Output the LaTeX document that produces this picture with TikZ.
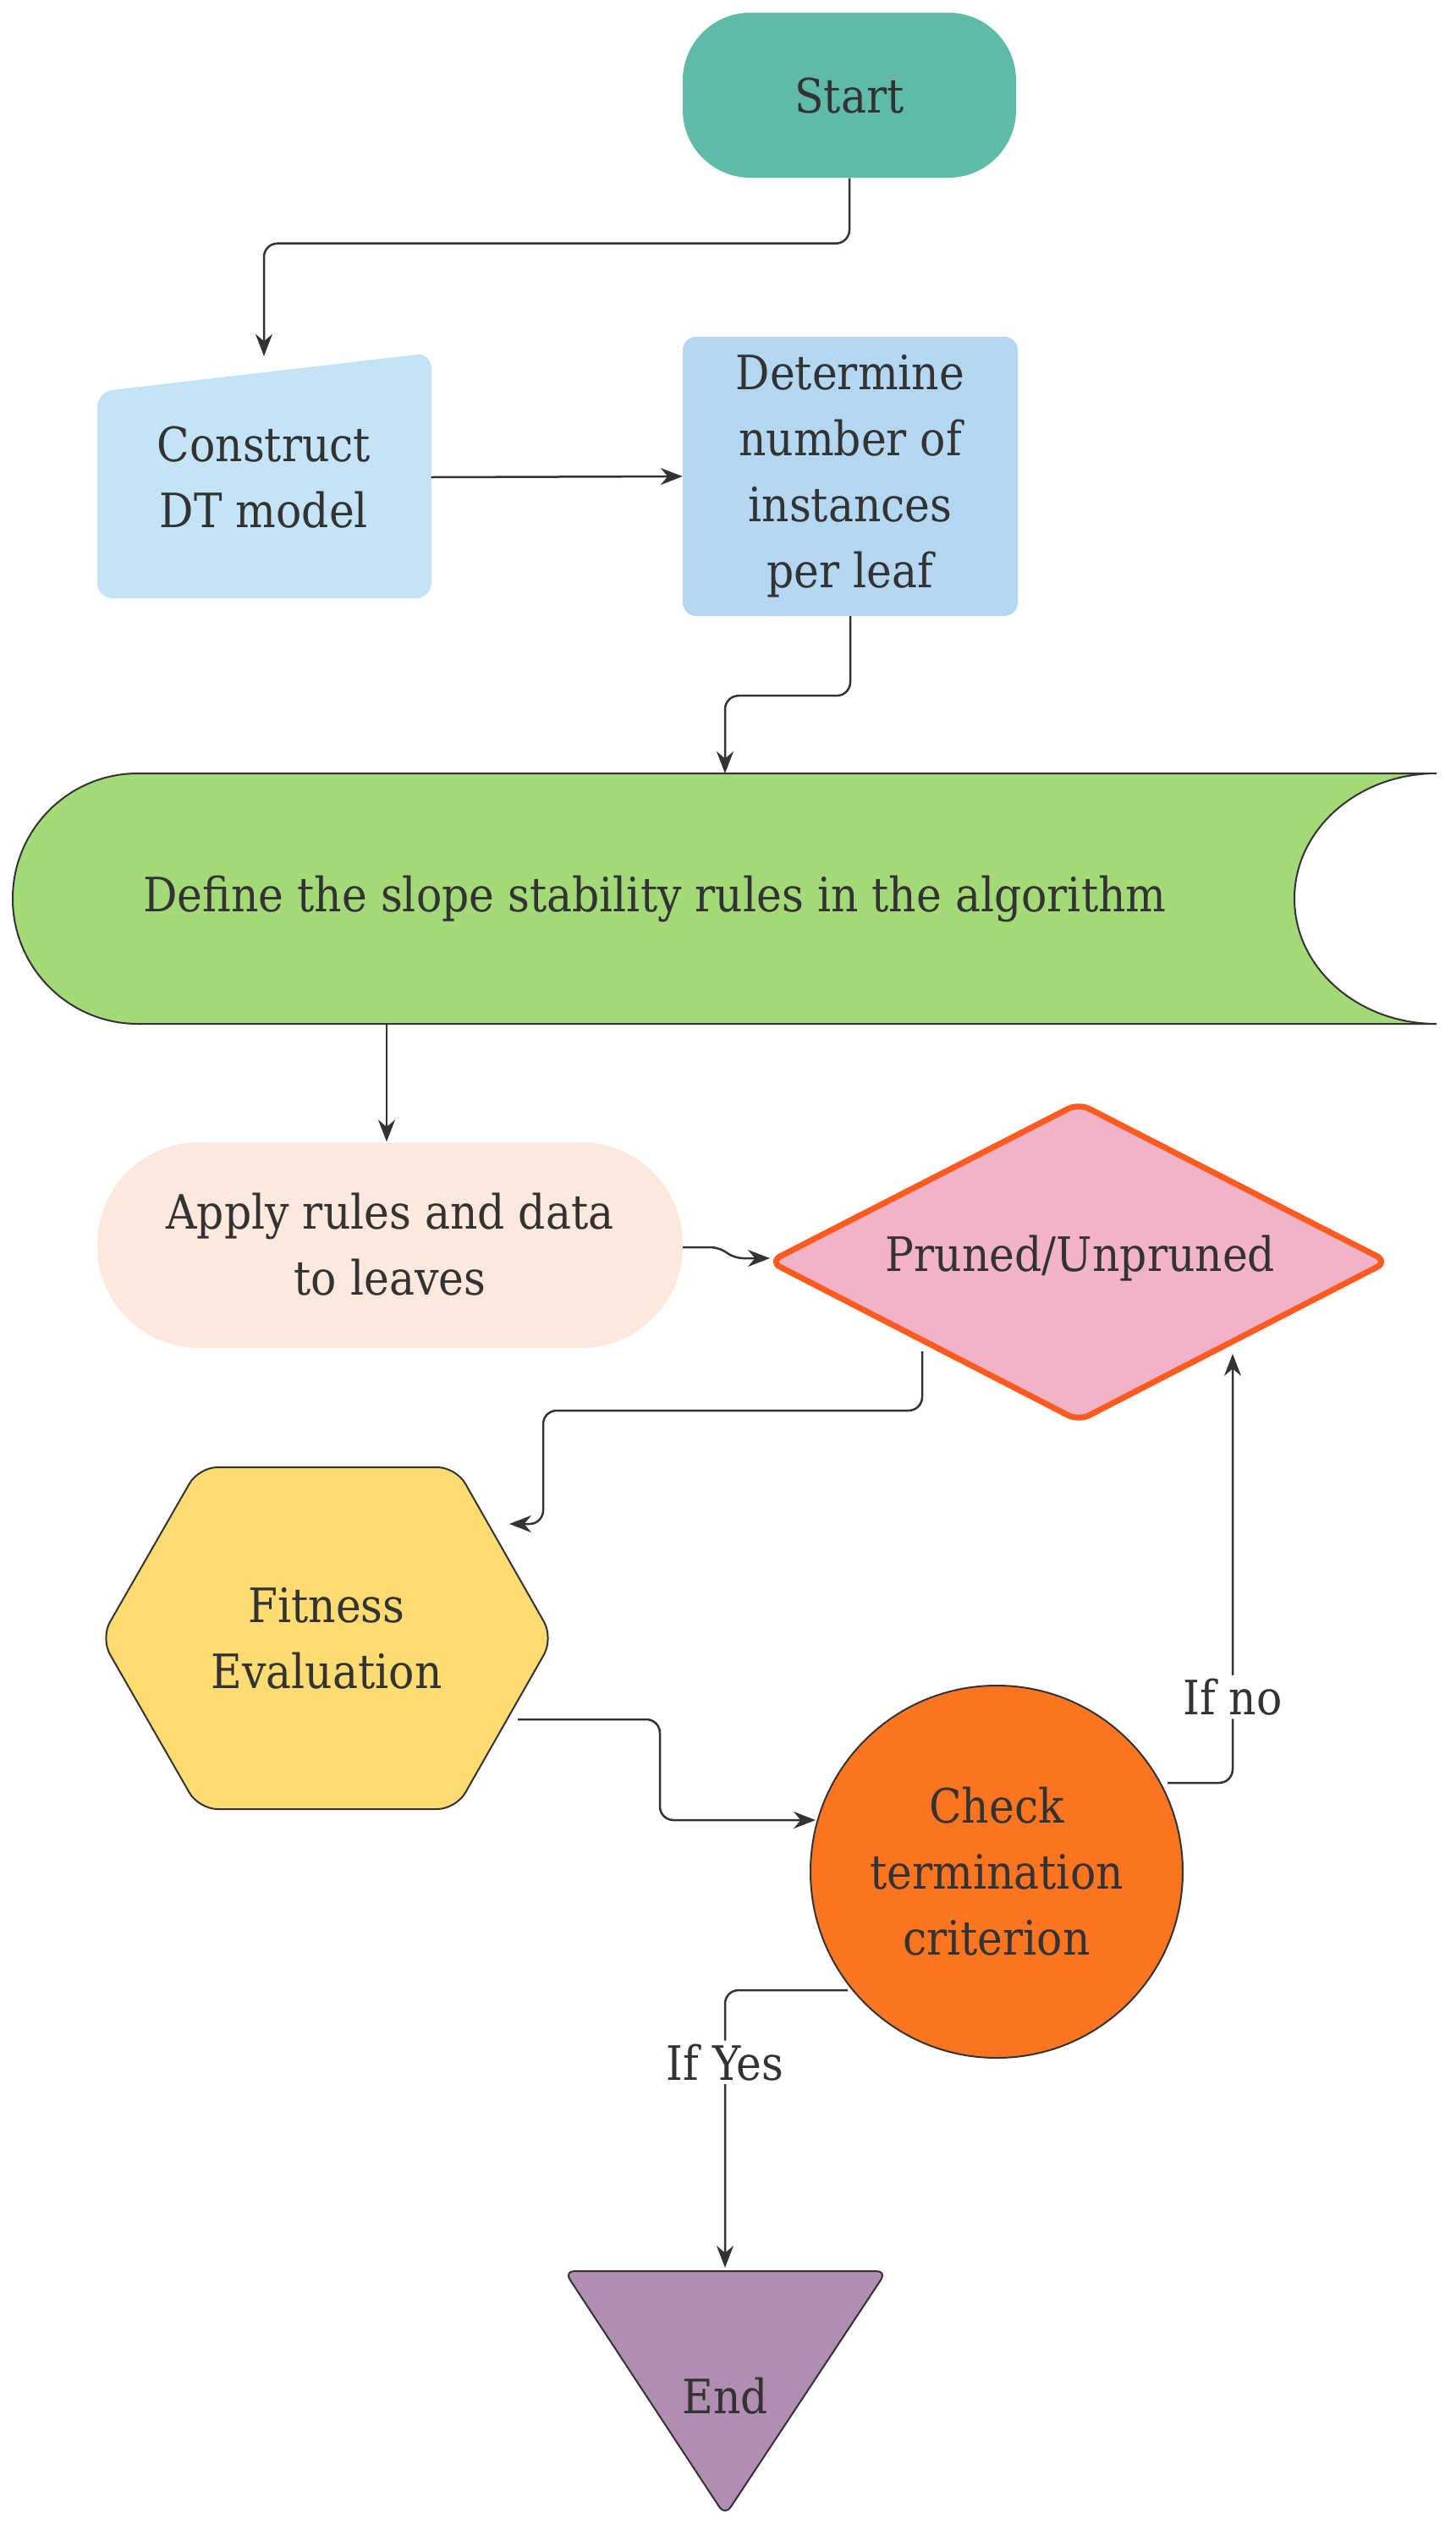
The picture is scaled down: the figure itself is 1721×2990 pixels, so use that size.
\documentclass[tikz,border=0pt]{standalone}
\usepackage{fontspec}
\setmainfont{DejaVu Serif Condensed}
\usetikzlibrary{arrows.meta}
\definecolor{cstart}{HTML}{5DBBA8}
\definecolor{ccons}{HTML}{C2E4F6}
\definecolor{cdet}{HTML}{B3D7F0}
\definecolor{cgreen}{HTML}{A3D977}
\definecolor{capply}{HTML}{FDE8DD}
\definecolor{cpink}{HTML}{F2B3C8}
\definecolor{cred}{HTML}{FF5A1F}
\definecolor{cyel}{HTML}{FEDC72}
\definecolor{corange}{HTML}{FD7521}
\definecolor{cpurp}{HTML}{B08DB1}
\definecolor{cline}{HTML}{333333}
\begin{document}
\begin{tikzpicture}[x=1pt,y=-1pt,
  txt/.style={align=center,text=cline,font=\fontsize{56}{78}\selectfont,inner sep=0},
  conn/.style={draw=cline,line width=2.5pt,rounded corners=16pt,-{Stealth[length=26pt,width=20pt]}},
  lbl/.style={fill=white,text=cline,font=\fontsize{56}{78}\selectfont,inner sep=4pt}]
\useasboundingbox[fill=white] (0,0) rectangle (1721,2990);
% shapes
\fill[cstart,rounded corners=80pt] (807,15) rectangle (1201,210);
\fill[ccons,rounded corners=18pt] (115,463) -- (510,417) -- (510,707) -- (115,707) -- cycle;
\fill[cdet,rounded corners=16pt] (807,398) rectangle (1203,728);
\filldraw[fill=cgreen,draw=cline,line width=2pt] (1698,914) -- (163,914) arc(270:90:148) -- (1698,1210) arc(90:270:168 and 148);
\fill[capply,rounded corners=120pt] (115,1350) rectangle (807,1593);
\filldraw[fill=cpink,draw=cred,line width=7pt,rounded corners=14pt] (910,1491) -- (1275,1304) -- (1640,1491) -- (1275,1679) -- cycle;
\filldraw[fill=cyel,draw=cline,line width=2pt,rounded corners=22pt] (235,1734) -- (539,1734) -- (654,1936) -- (539,2138) -- (235,2138) -- (119,1936) -- cycle;
\filldraw[fill=corange,draw=cline,line width=2pt] (1178,2212) circle (220);
\filldraw[fill=cpurp,draw=cline,line width=2pt,rounded corners=12pt] (667,2684) -- (1048,2684) -- (857,2973) -- cycle;
% text nodes
\node[txt,minimum width=394pt,minimum height=195pt] (start) at (1004,113) {Start};
\node[txt,minimum width=395pt,minimum height=286pt] (construct) at (312,564) {Construct\\DT model};
\node[txt,minimum width=396pt,minimum height=330pt] (determine) at (1005,563) {Determine\\number of\\instances\\per leaf};
\node[txt] (define) at (774,1062) {Define the slope stability rules in the algorithm};
\node[txt,minimum width=692pt,minimum height=243pt] (apply) at (461,1471) {Apply rules and data\\to leaves};
\node[txt] (pruned) at (1277,1487) {Pruned/Unpruned};
\node[txt] (fitness) at (386,1936) {Fitness\\Evaluation};
\node[txt] (check) at (1178,2212) {Check\\termination\\criterion};
\node[txt] (end) at (857,2832) {End};
% coordinates
\coordinate (dtop) at (857,914);
\coordinate (dbot) at (457,1210);
\coordinate (ain) at (910,1487);
\coordinate (pbl) at (1090,1597);
\coordinate (fin) at (602,1801);
\coordinate (fout) at (612,2032);
\coordinate (cin) at (964,2151);
\coordinate (cout) at (1380,2107);
\coordinate (pin) at (1457,1600);
\coordinate (cbot) at (1002,2352);
\coordinate (etop) at (857,2680);
% connectors
\draw[conn] (start.south) -- ++(0,77) -| (construct.north);
\draw[conn] (construct.east) -- (determine.west);
\draw[conn] (determine.south) -- ++(0,94) -| (dtop);
\draw[conn] (dbot) -- (dbot |- apply.north);
\draw[conn,rounded corners=10pt] (apply.east |- 0,1474) -- (850,1474) -- (868,1487) -- (ain);
\draw[conn] (pbl) -- ++(0,70) -| (642,1801) -- (fin);
\draw[conn] (fout) -| (780,2151) -- (cin);
\draw[conn] (cout) -| (pin) node[lbl,pos=0.6] {If no};
\draw[conn] (cbot) -| (etop) node[lbl,pos=0.63] {If Yes};
\end{tikzpicture}
\end{document}
